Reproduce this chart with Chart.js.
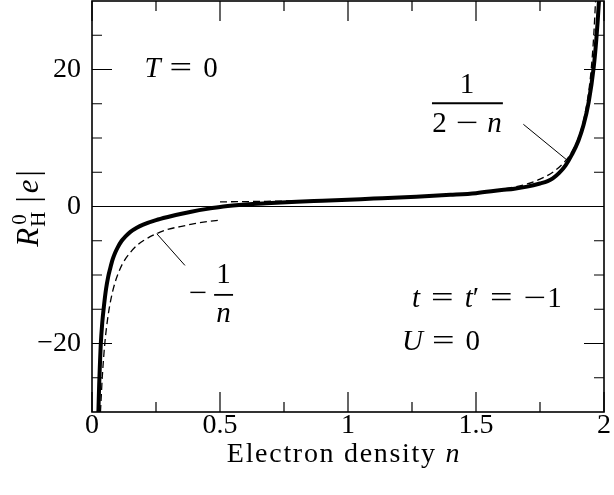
<!DOCTYPE html>
<html><head><meta charset="utf-8">
<script src="https://cdn.jsdelivr.net/npm/chart.js@4.4.0/dist/chart.umd.min.js"></script>
<style>html,body{margin:0;padding:0;background:#fff;}</style>
</head><body>
<canvas id="c" width="614" height="495"></canvas>
<script>
// ---- data ----
const rhN = [0.025,0.028,0.031,0.034,0.04,0.047,0.055,0.063,0.07,0.08,0.09,0.1,0.116,0.13,0.15,0.175,0.2,0.25,0.3,0.35,0.383,0.45,0.513,0.6,0.68,0.8,0.9,1.0,1.1,1.2,1.3,1.4,1.5,1.6,1.65,1.7,1.75,1.78,1.8,1.825,1.85,1.875,1.9,1.92,1.94,1.96,1.97,1.98,1.985];
const rhY = [-30,-26,-23,-20.3,-17,-14.4,-12,-10.3,-9.2,-7.8,-6.8,-6.0,-5.0,-4.4,-3.7,-3.1,-2.65,-2.0,-1.5,-1.05,-0.8,-0.35,0.0,0.3,0.48,0.7,0.85,1.0,1.15,1.3,1.5,1.7,1.95,2.4,2.6,2.9,3.35,3.7,4.1,4.9,6.0,7.6,9.6,11.9,15.2,20.4,24.4,29.8,33.5];
const invLeftN = [0.033,0.035,0.04,0.05,0.06,0.07,0.08,0.09,0.1,0.12,0.15,0.175,0.2,0.25,0.3,0.35,0.4,0.45,0.5];
const invLeftY = [-30,-28.6,-25,-20,-16.7,-14.3,-12.5,-11.1,-10,-8.3,-6.7,-5.7,-5,-4,-3.3,-2.9,-2.5,-2.2,-2.0];
const invRightN = [0.5,0.7,0.9,1.1,1.3,1.5,1.6,1.7,1.75,1.8,1.85,1.88,1.9,1.92,1.94,1.95,1.96,1.967];
const invRightY = [0.67,0.77,0.91,1.11,1.43,2.0,2.5,3.3,4.0,5.0,6.7,8.3,10,12.5,16.7,20,25,30];
const xTickValues = [0,0.5,1,1.5,2];
const xTickLabels = ['0','0.5','1','1.5','2'];
const yTickValues = [-20,0,20];
const yTickLabels = ['\u221220','0','20'];
const xMinorTicks = [0.25,0.75,1.25,1.75];
const yMinorTicks = [-25,-15,-10,-5,5,10,15,25];

const SERIF = '"Liberation Serif","Times New Roman",serif';
const zip = (a,b) => a.map((v,i)=>({x:v,y:b[i]}));

function fnt(size, italic){ return (italic?'italic ':'') + size + 'px ' + SERIF; }
function runW(ctx, r, size){ ctx.font=fnt(r.s||size, r.i); return ctx.measureText(r.t).width*(r.sx||1); }
function runsWidth(ctx, runs, size){
  let w=0; runs.forEach(r=>{ w+=runW(ctx,r,size)+(r.g||0);}); return w;
}
function drawRuns(ctx, runs, x, y, size, align){
  const w = runsWidth(ctx, runs, size);
  let cx = align==='center' ? x - w/2 : (align==='right' ? x - w : x);
  ctx.textAlign='left'; ctx.textBaseline='alphabetic';
  runs.forEach(r=>{
    const rw = runW(ctx,r,size);
    ctx.save(); ctx.translate(cx, y+(r.dy||0)); ctx.scale(r.sx||1,1); ctx.fillText(r.t,0,0); ctx.restore();
    cx+=rw+(r.g||0);
  });
}

const decor = {
  id:'decor',
  afterDraw(chart){
    const ctx=chart.ctx, a=chart.chartArea, xs=chart.scales.x, ys=chart.scales.y;
    ctx.save();
    ctx.strokeStyle='#000'; ctx.fillStyle='#000';
    ctx.lineWidth=1.2;
    const tick=(px,len,vertical)=>{
      ctx.beginPath();
      if(vertical){ ctx.moveTo(px,a.bottom); ctx.lineTo(px,a.bottom-len); ctx.moveTo(px,a.top); ctx.lineTo(px,a.top+len); }
      else { ctx.moveTo(a.left,px); ctx.lineTo(a.left+len,px); ctx.moveTo(a.right,px); ctx.lineTo(a.right-len,px); }
      ctx.stroke();
    };
    xTickValues.forEach(v=>tick(xs.getPixelForValue(v),20,true));
    xMinorTicks.forEach(v=>tick(xs.getPixelForValue(v),10,true));
    yTickValues.forEach(v=>tick(ys.getPixelForValue(v),20,false));
    yMinorTicks.forEach(v=>tick(ys.getPixelForValue(v),10,false));
    ctx.lineWidth=1.6;
    ctx.strokeRect(a.left,a.top,a.right-a.left,a.bottom-a.top);
    const X=v=>xs.getPixelForValue(v), Y=v=>ys.getPixelForValue(v);
    const F=29, G=11, S=1.38;
    drawRuns(ctx,[{t:'T',i:1,g:G-2},{t:'=',sx:S,g:G},{t:'0'}],X(0.205),Y(18.9),F,'left');
    drawRuns(ctx,[{t:'t',i:1,g:G},{t:'=',sx:S,g:G},{t:'t',i:1},{t:'\u2032',g:G},{t:'=',sx:S,g:G},{t:'\u2212',sx:S,g:1},{t:'1'}],X(1.25),Y(-14.7),F,'left');
    drawRuns(ctx,[{t:'U',i:1,g:G-2},{t:'=',sx:S,g:G},{t:'0'}],X(1.211),Y(-20.9),F,'left');
    // fraction 1/(2-n)
    drawRuns(ctx,[{t:'1'}],X(1.465),Y(16.5),F,'center');
    ctx.lineWidth=1.8; ctx.beginPath(); ctx.moveTo(X(1.328),Y(15.07)); ctx.lineTo(X(1.605),Y(15.07)); ctx.stroke();
    drawRuns(ctx,[{t:'2',g:9},{t:'\u2212',sx:S,g:9},{t:'n',i:1}],X(1.465),Y(10.9),F,'center');
    // fraction -1/n
    drawRuns(ctx,[{t:'\u2212',sx:1.12}],X(0.414),Y(-13.9),F,'center');
    drawRuns(ctx,[{t:'1'}],X(0.514),Y(-11.24),F,'center');
    ctx.lineWidth=1.8; ctx.beginPath(); ctx.moveTo(X(0.477),Y(-12.9)); ctx.lineTo(X(0.551),Y(-12.9)); ctx.stroke();
    drawRuns(ctx,[{t:'n',i:1}],X(0.514),Y(-16.8),F,'center');
    // x title
    ctx.letterSpacing='1.7px';
    drawRuns(ctx,[{t:'Electron density '},{t:'n',i:1}],(a.left+a.right)/2-4,462,28,'center');
    ctx.letterSpacing='0px';
    // y title (rotated), centred on the plot's vertical middle
    const parts=[
      {t:'R',f:fnt(31,true),g:1},
      {t:'H',f:fnt(21,false),g:9,sub:true},
      {t:'|',f:fnt(31,false),g:3},
      {t:'e',f:fnt(31,true),g:3},
      {t:'|',f:fnt(31,false),g:0}
    ];
    let total=0; parts.forEach(p=>{ctx.font=p.f; total+=ctx.measureText(p.t).width+p.g;});
    const cy=(a.top+a.bottom)/2+2;
    ctx.translate(38, cy+total/2); ctx.rotate(-Math.PI/2);
    let cx=0;
    parts.forEach(p=>{
      ctx.font=p.f;
      if(p.sub){ ctx.fillText('H',cx,7); ctx.fillText('0',cx+2,-12); }
      else ctx.fillText(p.t,cx,0);
      cx+=ctx.measureText(p.t).width+p.g;
    });
    ctx.restore();
  }
};

const line = (data, w, dash, order, mono) => ({data, borderColor:'#000', backgroundColor:'#000', borderWidth:w, borderDash:dash||[], pointRadius:0, fill:false, tension:0, cubicInterpolationMode: mono?'monotone':'default', clip:0, order});

function build(){
  new Chart(document.getElementById('c'), {
    type:'line',
    data:{datasets:[
      line([{x:0,y:0},{x:2,y:0}],1.2,null,3,false),
      line(zip(rhN,rhY),4,null,2,true),
      line(zip(invLeftN,invLeftY),1.3,[7,4],1,true),
      line(zip(invRightN,invRightY),1.3,[7,4],1,true),
      line([{x:0.253,y:-3.97},{x:0.363,y:-8.6}],1,null,0,false),
      line([{x:1.685,y:12.0},{x:1.858,y:6.7}],1,null,0,false)
    ]},
    options:{
      responsive:false, animation:false, devicePixelRatio:1,
      layout:{padding:{top:1,right:10,left:0,bottom:0}},
      plugins:{legend:{display:false}, tooltip:{enabled:false}, title:{display:false}},
      scales:{
        x:{type:'linear', min:0, max:2,
           afterBuildTicks:s=>{s.ticks=xTickValues.map(v=>({value:v}));},
           ticks:{callback:v=>xTickLabels[xTickValues.indexOf(v)], font:{family:SERIF,size:28}, color:'#000', padding:-3, maxRotation:0, autoSkip:false},
           grid:{display:false, drawTicks:false}, border:{display:false},
           afterFit:s=>{s.height=83; s.paddingLeft=0; s.paddingRight=0;}},
        y:{type:'linear', min:-30, max:30,
           afterBuildTicks:s=>{s.ticks=yTickValues.map(v=>({value:v}));},
           ticks:{callback:v=>yTickLabels[yTickValues.indexOf(v)], font:{family:SERIF,size:28}, color:'#000', padding:11, autoSkip:false},
           grid:{display:false, drawTicks:false}, border:{display:false},
           afterFit:s=>{s.width=92; s.paddingTop=0; s.paddingBottom=0;}}
      }
    },
    plugins:[decor]
  });
}
let built=false;
function go(){ if(!built){ built=true; build(); } }
if (document.fonts && document.fonts.load) {
  Promise.all([
    document.fonts.load('28px "Liberation Serif"'),
    document.fonts.load('italic 28px "Liberation Serif"')
  ]).then(go, go);
  setTimeout(go, 1500);
} else { go(); }
</script>
</body></html>
